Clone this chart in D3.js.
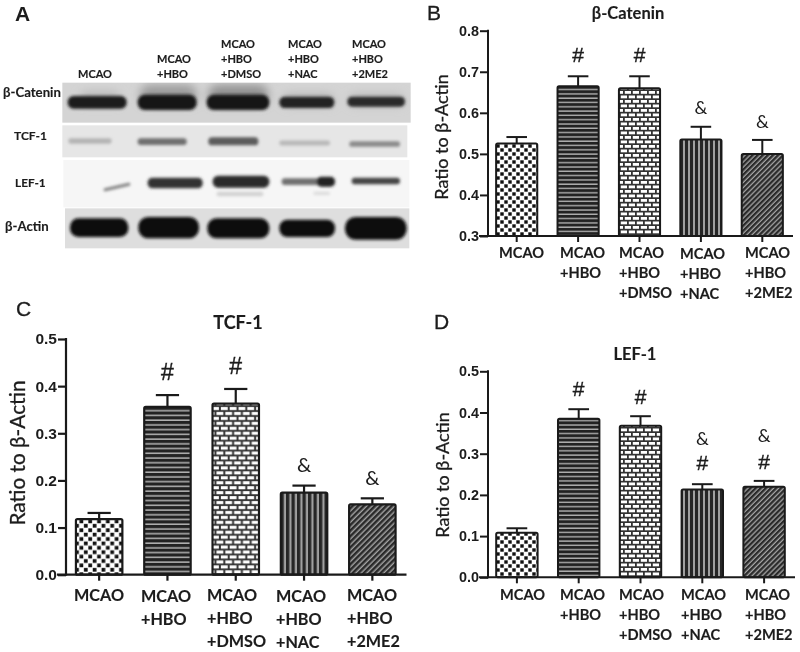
<!DOCTYPE html>
<html><head><meta charset="utf-8">
<script src="https://cdn.jsdelivr.net/npm/d3@7/dist/d3.min.js"></script>
<style>
html,body{margin:0;padding:0;background:#fff}
svg{display:block;filter:blur(0.35px)}
text{fill:#1c1c1c}
.lab{font-family:Lato,"Open Sans",sans-serif;font-weight:700;stroke:#1c1c1c;stroke-width:.15px}
.tick{font-family:"Liberation Sans",Arial,sans-serif;font-weight:700}
</style></head><body>
<svg id="c" width="800" height="652"></svg>
<script>
// ---- data ----
const groups = [["MCAO"],["MCAO","+HBO"],["MCAO","+HBO","+DMSO"],["MCAO","+HBO","+NAC"],["MCAO","+HBO","+2ME2"]];
const catMean = [0.525,0.665,0.660,0.535,0.500];
const catTop  = [0.541,0.689,0.689,0.566,0.534];
const tcfMean = [0.118,0.356,0.363,0.174,0.149];
const tcfTop  = [0.131,0.381,0.394,0.189,0.162];
const lefMean = [0.108,0.385,0.368,0.213,0.220];
const lefTop  = [0.119,0.408,0.391,0.226,0.234];
const catMarks = [[1,"#",0.741],[2,"#",0.741],[3,"&",0.614],[4,"&",0.578]];
const tcfMarks = [[1,"#",0.430],[2,"#",0.443],[3,"&",0.233],[4,"&",0.205]];
const lefMarks = [[1,"#",0.459],[2,"#",0.440],[3,"&",0.338],[4,"&",0.345],[3,"#",0.280],[4,"#",0.282]];
const catTicks = ["0.3","0.4","0.5","0.6","0.7","0.8"];
const otherTicks = ["0.0","0.1","0.2","0.3","0.4","0.5"];
const blotRowNames = ["β-Catenin","TCF-1","LEF-1","β-Actin"];
// blot bands read in image units: [left, right, centre, thickness, grey, tilt]
const catBands = [[203,380,307,38,"#1e1e1e"],[413,590,307,46,"#121212"],[620,808,307,46,"#121212"],[838,1003,307,34,"#242424"],[1042,1215,305,30,"#2a2a2a"]];
const tcfBands = [[205,335,423,16,"#b4b4b4"],[413,560,425,20,"#6e6e6e"],[625,775,424,24,"#5c5c5c"],[838,990,429,15,"#b8b8b8"],[1048,1200,432,17,"#8a8a8a"]];
const lefBands = [[310,392,561,9,"#808080",-13],[443,608,549,32,"#333"],[638,808,545,36,"#2a2a2a"],[845,1005,545,20,"#707070"],[950,1005,545,30,"#222"],[1055,1200,543,20,"#444"],[650,790,582,14,"#d2d2d2"],[940,990,580,10,"#dcdcdc"]];
const actBands = [[210,385,683,56,"#0e0e0e"],[415,597,683,64,"#0e0e0e"],[622,808,685,60,"#0e0e0e"],[838,1005,685,52,"#0e0e0e"],[1035,1220,685,68,"#0e0e0e"]];
// membrane strips: [left, right, top, bottom, grey]
const strips = [[187,1232,248,368,"#d4d4d4"],[187,1222,376,472,"#e6e6e6"],[190,1228,480,622,"#f6f6f6"],[195,1228,625,745,"#dedede"]];
// haze above the strongest beta-catenin bands
const catHaze = [[240,360,295,36,"#b4b4b4"],[420,590,285,60,"#9a9a9a"],[625,805,285,60,"#909090"],[850,1000,300,36,"#b4b4b4"],[1050,1210,300,34,"#b8b8b8"]];

const svg = d3.select("#c");
const defs = svg.append("defs");
const ink = "#1a1a1a";

function patterns(id,k){
  const mk=(n,w,h)=>defs.append("pattern").attr("id",n+id).attr("patternUnits","userSpaceOnUse").attr("width",w).attr("height",h).attr("patternTransform",`scale(${k})`);
  let p=mk("chk",8,8);
  p.append("rect").attr("width",8).attr("height",8).attr("fill","#fff");
  p.append("rect").attr("x",.3).attr("y",.3).attr("width",3.4).attr("height",3.4).attr("fill","#111");
  p.append("rect").attr("x",4.3).attr("y",4.3).attr("width",3.4).attr("height",3.4).attr("fill","#111");
  p=mk("hor",4,4.3);
  p.append("rect").attr("width",4).attr("height",4.3).attr("fill","#b0b0b0");
  p.append("rect").attr("width",4).attr("height",2.9).attr("fill","#222");
  p=mk("brk",8,9);
  p.append("rect").attr("width",8).attr("height",9).attr("fill","#333");
  p.append("rect").attr("x",0.8).attr("y",1).attr("width",6.2).attr("height",2.8).attr("fill","#fff");
  p.append("rect").attr("x",4.8).attr("y",5.5).attr("width",6.2).attr("height",2.8).attr("fill","#fff");
  p.append("rect").attr("x",-3.2).attr("y",5.5).attr("width",6.2).attr("height",2.8).attr("fill","#fff");
  p=mk("ver",5,4);
  p.append("rect").attr("width",5).attr("height",4).attr("fill","#a0a0a0");
  p.append("rect").attr("width",3).attr("height",4).attr("fill","#262626");
  p=defs.append("pattern").attr("id","dia"+id).attr("patternUnits","userSpaceOnUse").attr("width",3.6).attr("height",3.6).attr("patternTransform",`rotate(-45) scale(${k})`);
  p.append("rect").attr("width",3.6).attr("height",3.6).attr("fill","#a4a4a4");
  p.append("rect").attr("width",3.6).attr("height",2.3).attr("fill","#2a2a2a");
}
const patNames=["chk","hor","brk","ver","dia"];

function panel(o){
  const id=o.id; patterns(id,o.pk);
  const g=svg.append("g");
  const x=d3.scaleBand().domain(d3.range(5)).range(o.xr).paddingInner(o.pad).paddingOuter(o.pad/2);
  const y=d3.scaleLinear().domain(o.dom).range(o.yr);
  const bw=x.bandwidth();
  const base=y(o.dom[0]);
  const sw=o.sw;
  g.selectAll("rect.bar").data(o.mean).join("rect").attr("class","bar")
    .attr("x",(d,i)=>x(i)).attr("y",d=>y(d)).attr("width",bw).attr("height",d=>base-y(d))
    .attr("rx",1.5).attr("fill",(d,i)=>`url(#${patNames[i]}${id})`)
    .attr("stroke",ink).attr("stroke-width",sw);
  const cx=i=>x(i)+bw/2;
  g.selectAll("line.stem").data(o.top).join("line").attr("x1",(d,i)=>cx(i)).attr("x2",(d,i)=>cx(i))
    .attr("y1",(d,i)=>y(o.mean[i])).attr("y2",d=>y(d)).attr("stroke",ink).attr("stroke-width",sw);
  g.selectAll("line.cap").data(o.top).join("line").attr("x1",(d,i)=>cx(i)-bw/4).attr("x2",(d,i)=>cx(i)+bw/4)
    .attr("y1",d=>y(d)).attr("y2",d=>y(d)).attr("stroke",ink).attr("stroke-width",sw);
  const ya=d3.axisLeft(y).tickValues(o.ticks.map(Number)).tickFormat(d3.format(".1f")).tickSize(o.tl).tickPadding(1);
  const gy=g.append("g").attr("transform",`translate(${o.xr[0]+o.ax},0)`).call(ya);
  const xa=d3.axisBottom(x).tickFormat("").tickSize(6);
  const gx=g.append("g").attr("transform",`translate(0,${base})`).call(xa);
  [gy,gx].forEach(a=>{a.selectAll("path,line").attr("stroke",ink).attr("stroke-width",sw);});
  gy.selectAll("path").attr("d",`M0,${o.yr[0]+1}V${o.yr[1]-1}`);
  gx.selectAll("path").attr("d",`M${o.xr[0]+o.ax-9},0H${o.xr[1]}`);
  gy.selectAll("text").attr("class","tick").style("font-size",o.tf+"px").attr("fill","#1c1c1c");
  g.selectAll("text.mk").data(o.marks).join("text").attr("class","mk")
    .attr("x",d=>cx(d[0])).attr("y",d=>y(d[2])).attr("dy",".36em").attr("text-anchor","middle")
    .style("font-family",d=>d[1]==="#"?"'Liberation Sans',sans-serif":"'Lato',sans-serif")
    .style("stroke",d=>d[1]==="#"?"#1c1c1c":"none").style("stroke-width",".4px")
    .style("font-size",d=>(d[1]==="#"?o.mf:o.mf-3)+"px").text(d=>d[1]);
  groups.forEach((ls,i)=>{
    ls.forEach((t,j)=>{
      g.append("text").attr("class","lab").attr("x",o.catX[i]).attr("y",o.catY+j*o.lh+(o.catD[i]||0))
       .style("font-size",o.cf+"px").text(t);
    });
  });
  g.append("text").attr("class","lab").attr("x",o.title[1]).attr("y",o.title[2]).attr("text-anchor","middle")
   .style("font-size",o.title[3]+"px").text(o.title[0]);
  g.append("text").attr("transform",`translate(${o.yl[0]},${o.yl[1]}) rotate(-90)`).attr("text-anchor","middle")
   .style("font-family","Lato,sans-serif").style("font-weight",400).style("stroke","#1c1c1c").style("stroke-width",".3px").style("font-size",o.yl[2]+"px").text("Ratio to β-Actin");
  g.append("text").attr("x",o.let[1]).attr("y",o.let[2]).style("font-family","'Liberation Sans',sans-serif").style("font-size","21px").style("stroke","#1c1c1c").style("stroke-width",".3px").text(o.let[0]);
}

panel({id:"b",pk:1,mean:catMean,top:catTop,marks:catMarks,ticks:catTicks,dom:[0.3,0.8],yr:[236,30.7],xr:[486,793],pad:0.33,ax:2,sw:2,tl:8,tf:14.4,mf:21,cf:14.6,
  catX:[499,560,619,680,745],catY:258,lh:20,catD:[0,0,0,1,0],title:["β-Catenin",628,19,16.5],yl:[448,137,18],let:["B",427,20]});
panel({id:"c",pk:1.1,mean:tcfMean,top:tcfTop,marks:tcfMarks,ticks:otherTicks,dom:[0,0.5],yr:[574.7,339],xr:[65,406.5],pad:0.32,ax:1,sw:2.2,tl:8,tf:15.5,mf:23,cf:16.2,
  catX:[74,141,207,276,347],catY:601,lh:23,catD:[0,1,0,1,0],title:["TCF-1",238,329,18],yl:[25,453,20.8],let:["C",16,316]});
panel({id:"d",pk:1,mean:lefMean,top:lefTop,marks:lefMarks,ticks:otherTicks,dom:[0,0.5],yr:[577.3,371.3],xr:[486,795],pad:0.33,ax:2,sw:2,tl:8,tf:14.4,mf:21,cf:14.6,
  catX:[500,560,619,681,745],catY:600,lh:20,catD:[],title:["LEF-1",635,360,16.5],yl:[449,475,18],let:["D",434,329]});

// ---- panel A: blot ----
const px=d3.scaleLinear().domain([0,1260]).range([0,420]);
const py=d3.scaleLinear().domain([0,780]).range([0,260]);
const blur=defs.append("filter").attr("id","bl").attr("x","-20%").attr("y","-60%").attr("width","140%").attr("height","220%");
blur.append("feGaussianBlur").attr("stdDeviation",1.5);
const haze=defs.append("filter").attr("id","hz").attr("x","-30%").attr("y","-100%").attr("width","160%").attr("height","300%");
haze.append("feGaussianBlur").attr("stdDeviation",5);
defs.append("clipPath").attr("id","stripTop").append("rect")
  .attr("x",px(strips[0][0])).attr("width",px(strips[0][1])-px(strips[0][0])).attr("y",py(strips[0][2])).attr("height",py(strips[0][3])-py(strips[0][2]));
const a=svg.append("g");
a.selectAll("rect.strip").data(strips).join("rect").attr("class","strip")
  .attr("x",d=>px(d[0])).attr("width",d=>px(d[1])-px(d[0])).attr("y",d=>py(d[2])).attr("height",d=>py(d[3])-py(d[2])).attr("fill",d=>d[4]);
const drawBands=(arr,flt,parent)=>(parent||a).append("g").attr("filter",flt).selectAll("rect").data(arr).join("rect")
  .attr("x",d=>px(d[0])).attr("width",d=>px(d[1])-px(d[0]))
  .attr("y",d=>py(d[2]-d[3]/2)).attr("height",d=>py(d[3]))
  .attr("rx",d=>py(d[3])/2.2).attr("fill",d=>d[4])
  .attr("transform",d=>d[5]?`rotate(${d[5]} ${px((d[0]+d[1])/2)} ${py(d[2])})`:null);
drawBands(catHaze,"url(#hz)",a.append("g").attr("clip-path","url(#stripTop)"));
[catBands,tcfBands,lefBands,actBands].forEach(b=>drawBands(b,"url(#bl)"));
a.append("text").attr("x",15).attr("y",21).style("font-family","'Liberation Sans',sans-serif").style("font-weight",700).style("font-size","21px").text("A");
const laneX=[78,157,221,288,352], laneBase=78;
groups.forEach((ls,i)=>{
  ls.forEach((t,j)=>{
    a.append("text").attr("class","lab").attr("x",laneX[i]).attr("y",laneBase-(ls.length-1-j)*15)
      .style("font-size","11px").text(t);
  });
});
const rowX=[3,14,15,5], rowY=[97,140,187,231], rowF=[13.2,12,11.8,13.2];
blotRowNames.forEach((t,i)=>{
  a.append("text").attr("class","lab").attr("x",rowX[i]).attr("y",rowY[i]).style("font-size",rowF[i]+"px").text(t);
});
</script>
</body></html>
